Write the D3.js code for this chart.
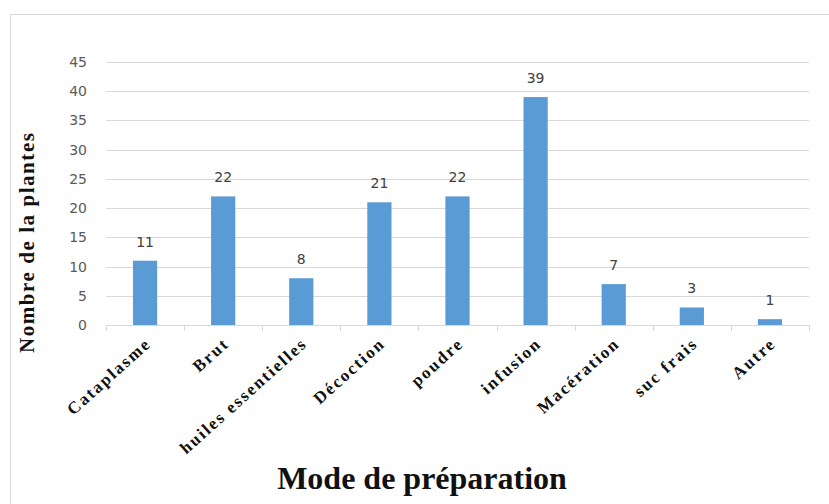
<!DOCTYPE html>
<html>
<head>
<meta charset="utf-8">
<script src="https://cdn.jsdelivr.net/npm/d3@7"></script>
<style>
  html, body { margin: 0; padding: 0; background: #fff; }
  svg { display: block; }
</style>
</head>
<body>
<svg id="chart" width="829" height="504"></svg>
<script>
// Preparation methods and number of plants for each
const categories = ["Cataplasme", "Brut", "huiles essentielles", "Décoction", "poudre", "infusion", "Macération", "suc frais", "Autre"];
const values = [11, 22, 8, 21, 22, 39, 7, 3, 1];
const yTicks = [0, 5, 10, 15, 20, 25, 30, 35, 40, 45];
const yTitle = "Nombre de la plantes";
const xTitle = "Mode de préparation";

const svg = d3.select("#chart");
const W = 829, H = 504;
const margin = { left: 106, right: 20, top: 62, bottom: 179 };
const plotW = W - margin.left - margin.right;
const plotH = H - margin.top - margin.bottom;

// outer chart frame
svg.append("rect")
  .attr("x", 10.5).attr("y", 14.5)
  .attr("width", W + 20).attr("height", H + 20)
  .attr("fill", "#fff").attr("stroke", "#d9d9d9").attr("stroke-width", 1);

const g = svg.append("g").attr("transform", `translate(${margin.left},${margin.top})`);

const x = d3.scaleBand().domain(categories).range([0, plotW]).paddingInner(0.69).paddingOuter(0.345);
const y = d3.scaleLinear().domain([0, 45]).range([plotH, 0]);

// horizontal gridlines
g.append("g").selectAll("line").data(yTicks.filter(t => t > 0)).join("line")
  .attr("x1", 0).attr("x2", plotW)
  .attr("y1", d => Math.round(y(d)) + 0.5).attr("y2", d => Math.round(y(d)) + 0.5)
  .attr("stroke", "#d9d9d9").attr("stroke-width", 1);

// y axis labels
const yAxis = g.append("g").call(d3.axisLeft(y).tickValues(yTicks).tickSize(0).tickPadding(19));
yAxis.select(".domain").remove();
yAxis.selectAll("text")
  .attr("fill", "#595959")
  .style("font-family", "'DejaVu Sans', sans-serif")
  .style("font-size", "14px");

// bars
g.append("g").selectAll("rect").data(values).join("rect")
  .attr("x", (d, i) => x(categories[i]))
  .attr("width", x.bandwidth())
  .attr("y", d => y(d))
  .attr("height", d => y(0) - y(d))
  .attr("fill", "#5b9bd5");

// value labels
g.append("g").selectAll("text").data(values).join("text")
  .attr("x", (d, i) => x(categories[i]) + x.bandwidth() / 2)
  .attr("y", d => y(d) - 14)
  .attr("text-anchor", "middle")
  .attr("fill", "#404040")
  .style("font-family", "'DejaVu Sans', sans-serif")
  .style("font-size", "14px")
  .text(d => d);

// category axis with ticks at band boundaries
const step = x.step();
const bounds = d3.range(categories.length + 1).map(i => i * step);
const xa = g.append("g").attr("transform", `translate(0,${plotH})`);
xa.append("line").attr("x1", 0).attr("x2", plotW).attr("y1", 0.5).attr("y2", 0.5)
  .attr("stroke", "#d9d9d9");
xa.selectAll("line.tick").data(bounds).join("line").attr("class", "tick")
  .attr("x1", d => Math.round(d) + 0.5).attr("x2", d => Math.round(d) + 0.5)
  .attr("y1", 0).attr("y2", 6)
  .attr("stroke", "#d9d9d9");

// rotated category labels
xa.selectAll("text").data(categories).join("text")
  .attr("transform", d => `translate(${x(d) + x.bandwidth() / 2 + 7},${20}) rotate(-42)`)
  .attr("text-anchor", "end")
  .attr("fill", "#111")
  .style("font-family", "'Liberation Serif', 'Times New Roman', serif")
  .style("font-weight", "bold")
  .style("font-size", "17px")
  .style("letter-spacing", "2px")
  .text(d => d);

// axis titles
svg.append("text")
  .attr("transform", `translate(34,243) rotate(-90)`)
  .attr("text-anchor", "middle")
  .attr("fill", "#111")
  .style("font-family", "'Liberation Serif', 'Times New Roman', serif")
  .style("font-weight", "bold")
  .style("font-size", "21px")
  .attr("textLength", 220)
  .attr("lengthAdjust", "spacing")
  .text(yTitle);

svg.append("text")
  .attr("x", 422).attr("y", 489)
  .attr("text-anchor", "middle")
  .attr("fill", "#111")
  .style("font-family", "'Liberation Serif', 'Times New Roman', serif")
  .style("font-weight", "bold")
  .style("font-size", "32px")
  .text(xTitle);
</script>
</body>
</html>
